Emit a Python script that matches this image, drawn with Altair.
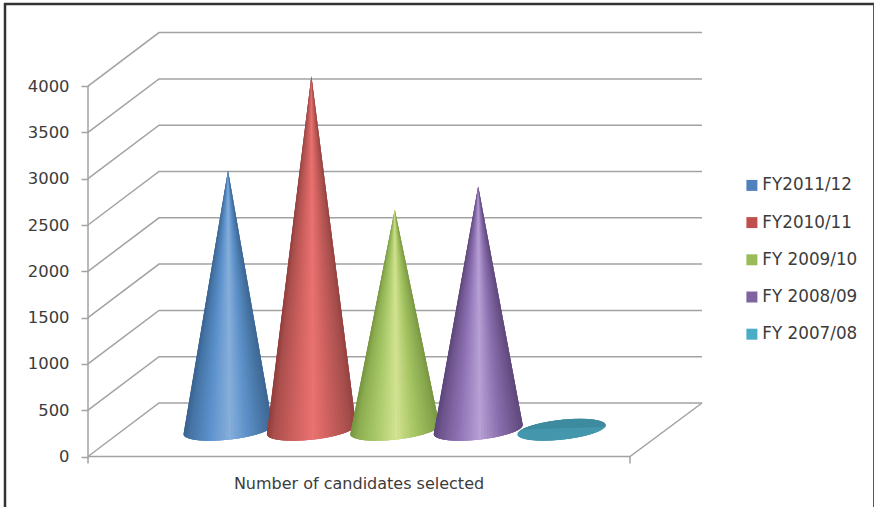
import math
import altair as alt
import pandas as pd

# Series read from the cone heights
SERIES = ["FY2011/12", "FY2010/11", "FY 2009/10", "FY 2008/09", "FY 2007/08"]
VALUES = [2800, 3820, 2375, 2630, 15]
LEGEND_COLORS = ["#4f81bd", "#c0504d", "#9bbb59", "#8064a2", "#4bacc6"]
TICKS = [0, 500, 1000, 1500, 2000, 2500, 3000, 3500, 4000]
X_TITLE = "Number of candidates selected"

# Side shading of each cone, dark rim to highlight to dark rim
SHADE_POS = [0.0, 0.07, 0.28, 0.52, 0.72, 0.93, 1.0]
SHADES = [
    ["#3a6392", "#4574a5", "#5b90cb", "#86aedb", "#5c90c8", "#44719f", "#3e6795"],
    ["#933e3c", "#a84e4c", "#cb5f5d", "#ea7270", "#c95f5d", "#a54e4c", "#964241"],
    ["#769640", "#8cac50", "#a8c968", "#d2e291", "#a7c663", "#88a74e", "#799843"],
    ["#5c4679", "#6e558d", "#8f72b5", "#b7a0d4", "#8e72b2", "#6b5389", "#5f497c"],
    ["#3e8ba0", "#3e8ba0", "#3e8ba0", "#3e8ba0", "#3e8ba0", "#3e8ba0", "#3e8ba0"],
]

# Canvas and pseudo-3D geometry
W, H = 874, 507
PX_PER_UNIT = 0.0926
ZERO_PX = 456.5
FRONT_LEFT, FRONT_RIGHT = 88, 630
DEPTH_X, DEPTH_V = 71, 578
TICK_V = 7 / PX_PER_UNIT
FIRST_CONE_X, CONE_STEP = 228, 83.4
BASE_V = DEPTH_V / 2
ELL_A, ELL_B, ELL_H = 40.5, 18.5, 11 / PX_PER_UNIT
SLICES = 48
OVERLAP = 2  # each slice runs under the next ones so no seams show

FONT = "DejaVu Sans"
TEXT = "#3c3c3c"
GREY = "#a2a2a2"

x_scale = alt.Scale(domain=[0, W], range=[0, W], nice=False, zero=False)
y_scale = alt.Scale(
    domain=[(ZERO_PX - H) / PX_PER_UNIT, ZERO_PX / PX_PER_UNIT],
    range=[H, 0], nice=False, zero=False,
)
x_axis = alt.Axis(
    title=X_TITLE, labels=False, ticks=False, domain=False, grid=False,
    titleX=358.5, titleY=-19, titleBaseline="alphabetic", titleAlign="center",
    titleFont=FONT, titleFontSize=16, titleFontWeight="normal", titleColor=TEXT,
)
y_axis = alt.Axis(
    title=None, values=TICKS, offset=-FRONT_LEFT, domain=False, grid=False, format="d",
    tickColor=GREY, tickWidth=1.5, tickSize=7, labelPadding=12,
    labelFont=FONT, labelFontSize=16.4, labelColor=TEXT,
)


def hex_rgb(c):
    return [int(c[i:i + 2], 16) for i in (1, 3, 5)]


def shade(stops, f):
    f = max(0.0, min(1.0, f))
    for k in range(len(SHADE_POS) - 1):
        if f <= SHADE_POS[k + 1]:
            w = (f - SHADE_POS[k]) / (SHADE_POS[k + 1] - SHADE_POS[k])
            a, b = hex_rgb(stops[k]), hex_rgb(stops[k + 1])
            return "#%02x%02x%02x" % tuple(round(p + (q - p) * w) for p, q in zip(a, b))
    return stops[-1]


def rim(cx, t):
    return cx + ELL_A * math.cos(t) + ELL_B * math.sin(t), BASE_V + ELL_H * math.sin(t)


def triangle(pid, fill, p, q, r):
    """A filled triangle expressed as a horizontal band area."""
    top, mid, low = sorted([p, q, r], key=lambda a: -a[1])
    span = top[1] - low[1]
    w = 0 if span == 0 else (top[1] - mid[1]) / span
    cross = top[0] + (low[0] - top[0]) * w
    rows = [(top[0], top[0], top[1]), (mid[0], cross, mid[1]), (low[0], low[0], low[1])]
    return [dict(id=pid, fill=fill, x=a, x2=b, v=c) for a, b, c in rows]


cone_rows = []
silhouette_rows = []
pid = 0
for i, (name, value, stops) in enumerate(zip(SERIES, VALUES, SHADES)):
    cx = FIRST_CONE_X + CONE_STEP * i
    tip = (cx, BASE_V + value)
    if value < 100:
        # A nearly flat cone shows its whole base, darker toward the back
        for s in range(SLICES):
            t0 = 2 * math.pi * s / SLICES
            t1 = 2 * math.pi * (s + 1 + OVERLAP) / SLICES
            tint = "#3e8ba0" if math.sin(2 * math.pi * (s + 0.5) / SLICES) > 0 else "#4497ad"
            cone_rows += triangle(pid, tint, tip, rim(cx, t0), rim(cx, t1))
            pid += 1
        sil_half = 20
    else:
        samples = [2 * math.pi * k / 1440 for k in range(1440)]
        slope = [(rim(cx, t)[0] - tip[0]) / (tip[1] - rim(cx, t)[1]) for t in samples]
        t_left = samples[slope.index(min(slope))]
        t_right = samples[slope.index(max(slope))]
        if t_right < t_left:
            t_right += 2 * math.pi
        x_left, x_right = rim(cx, t_left)[0], rim(cx, t_right)[0]
        for s in range(SLICES):
            t0 = t_left + (t_right - t_left) * s / SLICES
            t1 = t_left + (t_right - t_left) * min(s + 1 + OVERLAP, SLICES) / SLICES
            t_mid = t_left + (t_right - t_left) * (s + 0.5) / SLICES
            f = (rim(cx, t_mid)[0] - x_left) / (x_right - x_left)
            cone_rows += triangle(pid, shade(stops, f), tip, rim(cx, t0), rim(cx, t1))
            pid += 1
        sil_half = 40
    silhouette_rows += [
        dict(series=name, x=cx, x2=cx, v=tip[1]),
        dict(series=name, x=cx - sil_half, x2=cx + sil_half, v=BASE_V),
    ]

grid_rows = []
for tick in TICKS:
    grid_rows += [
        dict(tick=tick, seq=0, x=FRONT_LEFT, v=tick),
        dict(tick=tick, seq=1, x=FRONT_LEFT + DEPTH_X, v=tick + DEPTH_V),
        dict(tick=tick, seq=2, x=FRONT_RIGHT + DEPTH_X + 1, v=tick + DEPTH_V),
    ]

edge_rows = [
    dict(edge="wall", seq=0, x=FRONT_LEFT, v=TICKS[-1]),
    dict(edge="wall", seq=1, x=FRONT_LEFT, v=-TICK_V),
    dict(edge="floor", seq=0, x=FRONT_LEFT, v=0),
    dict(edge="floor", seq=1, x=FRONT_RIGHT, v=0),
    dict(edge="floor", seq=2, x=FRONT_RIGHT + DEPTH_X + 1, v=DEPTH_V),
    dict(edge="end", seq=0, x=FRONT_RIGHT, v=0),
    dict(edge="end", seq=1, x=FRONT_RIGHT, v=-TICK_V),
]

grid = alt.Chart(pd.DataFrame(grid_rows)).mark_line(color=GREY, strokeWidth=1.5).encode(
    x=alt.X("x:Q", scale=x_scale, axis=x_axis),
    y=alt.Y("v:Q", scale=y_scale, axis=y_axis),
    detail="tick:N",
    order="seq:Q",
)

edges = alt.Chart(pd.DataFrame(edge_rows)).mark_line(color=GREY, strokeWidth=1.5).encode(
    x=alt.X("x:Q", scale=x_scale, axis=x_axis),
    y=alt.Y("v:Q", scale=y_scale, axis=y_axis),
    detail="edge:N",
    order="seq:Q",
)

# Plain cone bodies carry the colour legend; the shaded slices sit on top of them
bodies = alt.Chart(pd.DataFrame(silhouette_rows)).mark_area(orient="horizontal", opacity=1).encode(
    y=alt.Y("v:Q", scale=y_scale, axis=y_axis, stack=None),
    x=alt.X("x:Q", scale=x_scale, axis=x_axis, stack=None),
    x2="x2:Q",
    color=alt.Color("series:N", scale=alt.Scale(domain=SERIES, range=LEGEND_COLORS), legend=alt.Legend(
        title=None, orient="none", legendX=743.5, legendY=177, symbolType="square",
        symbolSize=121, symbolStrokeWidth=0, symbolOpacity=1, rowPadding=19.2,
        labelFont=FONT, labelFontSize=16.8, labelColor=TEXT, labelOffset=2, labelLimit=130,
    )),
)

slices = alt.Chart(pd.DataFrame(cone_rows)).mark_area(orient="horizontal", opacity=1).encode(
    y=alt.Y("v:Q", scale=y_scale, axis=y_axis, stack=None),
    x=alt.X("x:Q", scale=x_scale, axis=x_axis, stack=None),
    x2="x2:Q",
    fill=alt.Fill("fill:N", scale=None, legend=None),
    detail="id:N",
)

frame = pd.DataFrame({"side": ["left", "top", "right"]})
left = alt.Chart(frame).transform_filter("datum.side == 'left'").mark_rule(color="#333333", strokeWidth=2.5).encode(
    x=alt.value(5), y=alt.value(3), y2=alt.value(H))
top = alt.Chart(frame).transform_filter("datum.side == 'top'").mark_rule(color="#333333", strokeWidth=2.5).encode(
    x=alt.value(4), x2=alt.value(W), y=alt.value(4))
right = alt.Chart(frame).transform_filter("datum.side == 'right'").mark_rule(color="#555555", strokeWidth=1).encode(
    x=alt.value(873.5), y=alt.value(4), y2=alt.value(H))

chart = (
    alt.layer(grid, edges, bodies, slices, left, top, right)
    .properties(width=W, height=H, padding=0, autosize=alt.AutoSizeParams(type="none"), background="white")
    .configure_view(stroke=None)
)

chart.save("out.html", embed_options={"renderer": "svg", "actions": False})
